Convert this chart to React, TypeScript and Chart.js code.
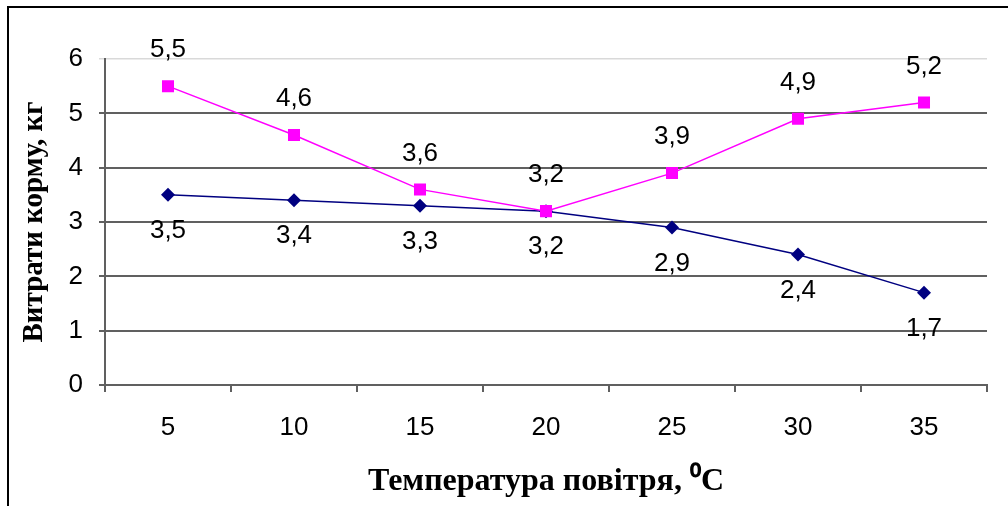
import React, { useEffect, useRef } from "react";
import { Chart, registerables } from "chart.js";

Chart.register(...registerables);

const categories = ["5", "10", "15", "20", "25", "30", "35"];
const pinkValues = [5.5, 4.6, 3.6, 3.2, 3.9, 4.9, 5.2];
const blueValues = [3.5, 3.4, 3.3, 3.2, 2.9, 2.4, 1.7];
const yTicks = [0, 1, 2, 3, 4, 5, 6];
const xTitle = "Температура повітря, ⁰C";
const yTitle = "Витрати корму, кг";

const fmt = (v: number) => v.toFixed(1).replace(".", ",");

const framePlugin = {
  id: "frame",
  beforeDraw(chart: any) {
    const ctx = chart.ctx;
    ctx.save();
    ctx.fillStyle = "#ffffff";
    ctx.fillRect(0, 0, chart.width, chart.height);
    ctx.strokeStyle = "#000000";
    ctx.lineWidth = 2;
    ctx.beginPath();
    ctx.moveTo(8, chart.height);
    ctx.lineTo(8, 7);
    ctx.lineTo(chart.width, 7);
    ctx.stroke();
    ctx.restore();
  },
};

const labelPlugin = {
  id: "valueLabels",
  afterDatasetsDraw(chart: any) {
    const ctx = chart.ctx;
    ctx.save();
    ctx.font = "26px 'Liberation Sans', Arial, sans-serif";
    ctx.fillStyle = "#000000";
    ctx.textAlign = "center";
    ctx.textBaseline = "middle";
    chart.data.datasets.forEach((ds: any, i: number) => {
      const meta = chart.getDatasetMeta(i);
      const dy = ds.labelSide === "above" ? -36 : 36;
      meta.data.forEach((pt: any, j: number) => {
        ctx.fillText(fmt(ds.data[j]), pt.x, pt.y + dy);
      });
    });
    ctx.restore();
  },
};

export default function App() {
  const ref = useRef<HTMLCanvasElement | null>(null);
  useEffect(() => {
    if (!ref.current) return;
    const chart = new Chart(ref.current, {
      type: "line",
      data: {
        labels: categories,
        datasets: [
          {
            label: "pink",
            data: pinkValues,
            borderColor: "#ff00ff",
            backgroundColor: "#ff00ff",
            borderWidth: 1.5,
            pointStyle: "rect",
            pointRadius: 8.5,
            pointBorderWidth: 0,
            tension: 0,
            labelSide: "above",
          } as any,
          {
            label: "blue",
            data: blueValues,
            borderColor: "#000080",
            backgroundColor: "#000080",
            borderWidth: 1.5,
            pointStyle: "rectRot",
            pointRadius: 7,
            pointBorderWidth: 0,
            tension: 0,
            labelSide: "below",
          } as any,
        ],
      },
      options: {
        animation: false,
        responsive: false,
        layout: { padding: { left: 0, top: 59, right: 21, bottom: 0 } },
        plugins: {
          legend: { display: false },
          tooltip: { enabled: false },
        },
        scales: {
          x: {
            type: "category",
            offset: true,
            afterFit: (s: any) => {
              s.height = 121;
            },
            grid: {
              offset: true,
              drawOnChartArea: false,
              drawTicks: true,
              tickLength: 7,
              color: "#606060",
              lineWidth: 2,
            },
            border: { display: true, color: "#606060", width: 2 },
            ticks: {
              color: "#000000",
              padding: 20,
              maxRotation: 0,
              font: { family: "'Liberation Sans', Arial, sans-serif", size: 26 },
            },
            title: {
              display: true,
              text: xTitle,
              color: "#000000",
              padding: { top: 0, bottom: 5 },
              font: { family: "'Liberation Serif', 'Times New Roman', serif", size: 32, weight: "bold" },
            },
          },
          y: {
            min: 0,
            max: 6,
            afterFit: (s: any) => {
              s.width = 105;
            },
            afterBuildTicks: (s: any) => {
              s.ticks = yTicks.map((v) => ({ value: v }));
            },
            grid: {
              drawTicks: true,
              tickLength: 6,
              color: (c: any) => (c.tick && c.tick.value === 6 ? "#d9d9d9" : "#606060"),
              lineWidth: (c: any) => (c.tick && c.tick.value === 6 ? 1.5 : 2),
            },
            border: { display: true, color: "#606060", width: 2 },
            ticks: {
              color: "#000000",
              padding: 16,
              font: { family: "'Liberation Sans', Arial, sans-serif", size: 26 },
            },
            title: {
              display: true,
              text: yTitle,
              color: "#000000",
              padding: { top: 17, bottom: 0 },
              font: { family: "'Liberation Serif', 'Times New Roman', serif", size: 29, weight: "bold" },
            },
          },
        },
      },
      plugins: [framePlugin, labelPlugin],
    });
    return () => chart.destroy();
  }, []);
  return (
    <div style={{ position: "absolute", left: 0, top: 0, width: 1008, height: 506 }}>
      <canvas ref={ref} width={1008} height={506} style={{ width: 1008, height: 506, display: "block" }} />
    </div>
  );
}
